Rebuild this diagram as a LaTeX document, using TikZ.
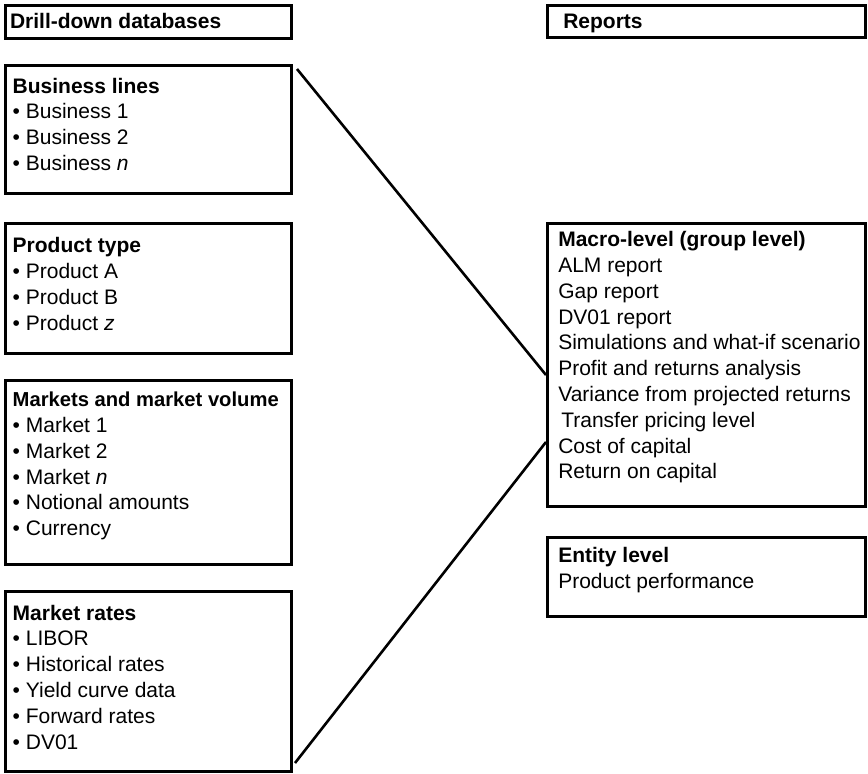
\documentclass[tikz,border=0pt]{standalone}
\usepackage{fontspec}
\setmainfont{Liberation Sans}
\usetikzlibrary{calc}
\begin{document}
\begin{tikzpicture}[x=1pt,y=-1pt,
  box/.style={draw=black,line width=3pt,inner sep=0pt,outer sep=0pt,anchor=north west},
  txt/.style={anchor=base west,inner sep=0pt,outer sep=0pt,font=\fontsize{21}{25.8}\selectfont},
  link/.style={draw=black,line width=2.6pt}]
\useasboundingbox (0,0) rectangle (868,774);
% boxes
\node[box,minimum width=286pt,minimum height=33pt] (hdrL) at (5.5,5.5) {};
\node[box,minimum width=286pt,minimum height=128.5pt] (bl) at (5.5,65) {};
\node[box,minimum width=286pt,minimum height=130pt] (pt) at (5.5,223.5) {};
\node[box,minimum width=286pt,minimum height=184.5pt] (mk) at (5.5,380) {};
\node[box,minimum width=286pt,minimum height=180pt] (mr) at (5.5,591.5) {};
\node[box,minimum width=317.5pt,minimum height=32pt] (hdrR) at (547.5,5.5) {};
\node[box,minimum width=317.5pt,minimum height=282.5pt] (macro) at (547.5,223.5) {};
\node[box,minimum width=317.5pt,minimum height=79pt] (entity) at (547.5,537.5) {};
% texts
\node[txt] (thdrL) at (10,28.3) {\textbf{Drill-down databases}};
\node[txt] (thdrR) at (563.3,28.3) {\textbf{Reports}};
\node[txt] (tbl) at (12.7,93) {\begin{tabular}[t]{@{}l@{}}\textbf{Business lines}\\ • Business 1\\ • Business 2\\ • Business \textit{n}\end{tabular}};
\node[txt] (tpt) at (12.7,252.7) {\begin{tabular}[t]{@{}l@{}}\textbf{Product type}\\ • Product A\\ • Product B\\ • Product \textit{z}\end{tabular}};
\node[txt] (tmk) at (12.7,406.7) {\begin{tabular}[t]{@{}l@{}}{\fontsize{20.2}{25.8}\selectfont\textbf{Markets and market volume}}\\ • Market 1\\ • Market 2\\ • Market \textit{n}\\ • Notional amounts\\ • Currency\end{tabular}};
\node[txt] (tmr) at (12.7,620) {\begin{tabular}[t]{@{}l@{}}\textbf{Market rates}\\ • LIBOR\\ • Historical rates\\ • Yield curve data\\ • Forward rates\\ • DV01\end{tabular}};
\node[txt] (tmacro) at (558.3,246.7) {\begin{tabular}[t]{@{}l@{}}\textbf{Macro-level (group level)}\\ ALM report\\ Gap report\\ DV01 report\\ Simulations and what-if scenario\\ Profit and returns analysis\\ Variance from projected returns\\ \hspace{3pt}Transfer pricing level\\ Cost of capital\\ Return on capital\end{tabular}};
\node[txt] (tentity) at (558.3,562.7) {\begin{tabular}[t]{@{}l@{}}\textbf{Entity level}\\ Product performance\end{tabular}};
% connectors
\coordinate (s1) at ($(bl.north east)+(5.5,4)$);
\coordinate (e1) at ($(macro.north west)+(-1.5,151.5)$);
\coordinate (s2) at ($(mr.south east)+(3.5,-8.5)$);
\coordinate (e2) at ($(macro.north west)+(-1.5,218.5)$);
\draw[link] (s1) -- (e1);
\draw[link] (s2) -- (e2);
\end{tikzpicture}
\end{document}
